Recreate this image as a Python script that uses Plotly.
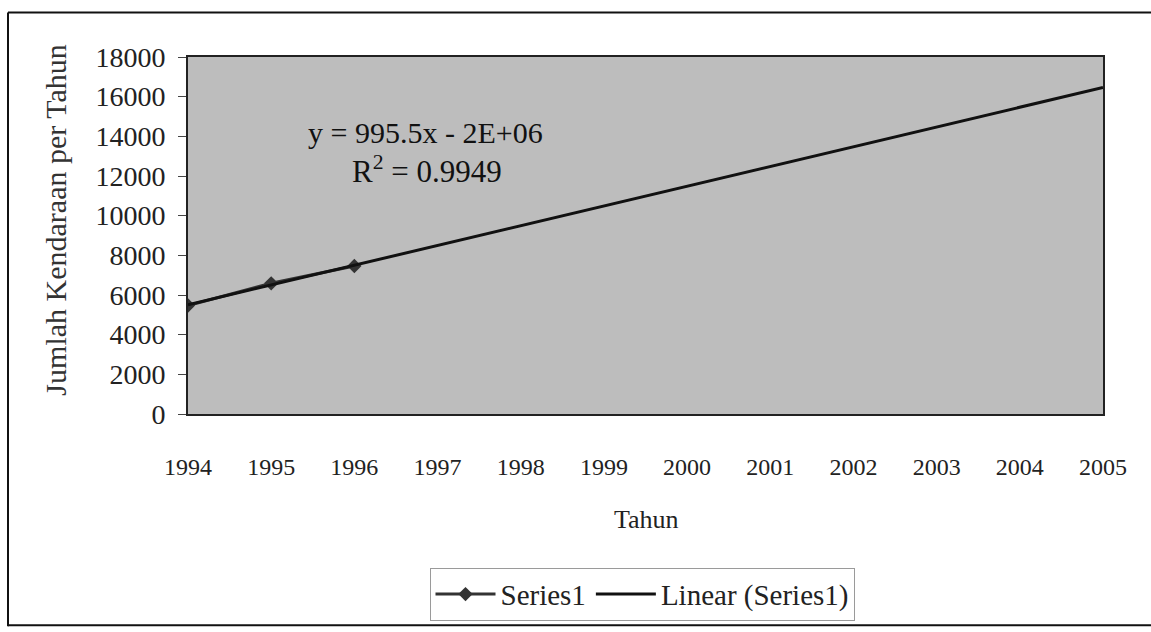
import numpy as np
import plotly.graph_objects as go

years = [1994, 1995, 1996]
vehicles = [5470, 6589, 7461]
trend_years = [1994, 2005]
x_ticks = list(range(1994, 2006))
y_ticks = list(range(0, 18001, 2000))

slope, intercept = np.polyfit(years, vehicles, 1)
trend_vals = [slope * x + intercept for x in trend_years]

W, H = 1151, 632
L, R, T, B = 188, 48, 57, 632 - 417
pw, ph = W - L - R, H - T - B

def px(x):
    return (x - L) / pw

def py(y):
    return (H - B - y) / ph

FONT = "Liberation Serif, Times New Roman, serif"
TXT = "#222222"

fig = go.Figure()
fig.add_trace(go.Scatter(
    x=years, y=vehicles, mode="lines+markers", name="Series1",
    line=dict(color="#333333", width=3),
    marker=dict(symbol="diamond", size=11, color="#333333"),
))
fig.add_trace(go.Scatter(
    x=trend_years, y=trend_vals, mode="lines", name="Linear (Series1)",
    line=dict(color="#111111", width=3),
))

def ann(text, x, y, size, color="#111111", angle=0):
    return dict(text=text, x=px(x), y=py(y), xref="paper", yref="paper",
                xanchor="center", yanchor="middle", textangle=angle,
                showarrow=False, font=dict(family=FONT, size=size, color=color))

def seg(x0, y0, x1, y1, color="#111111", width=2):
    return dict(type="line", xref="paper", yref="paper", x0=px(x0), y0=py(y0),
                x1=px(x1), y1=py(y1), line=dict(color=color, width=width))

fig.update_layout(
    width=W, height=H,
    margin=dict(l=L, r=R, t=T, b=B),
    paper_bgcolor="white",
    plot_bgcolor="#bdbdbd",
    font=dict(family=FONT, size=24, color=TXT),
    showlegend=True,
    legend=dict(
        orientation="h", x=px(642), y=py(572), xanchor="center", yanchor="top",
        bgcolor="rgba(0,0,0,0)", bordercolor="#9a9a9a", borderwidth=1,
        font=dict(family=FONT, size=29, color=TXT), itemwidth=60,
        traceorder="normal",
    ),
    xaxis=dict(
        range=[1994, 2005], tickvals=x_ticks, ticktext=[str(v) for v in x_ticks],
        showgrid=False, zeroline=False, showline=True, linecolor="#222222",
        linewidth=2, mirror=True, ticks="", automargin=False,
        ticklabelstandoff=30, tickfont=dict(family=FONT, size=24, color=TXT),
    ),
    yaxis=dict(
        range=[0, 18000], tickvals=y_ticks, tickformat="d", showgrid=False, zeroline=False,
        showline=True, linecolor="#222222", linewidth=2, mirror=True,
        ticks="outside", ticklen=8, tickcolor="#444444", ticklabelstandoff=7,
        automargin=False, tickfont=dict(family=FONT, size=28, color=TXT),
    ),
    annotations=[
        ann("y = 995.5x - 2E+06", 425, 133, 30),
        ann("R<sup>2</sup> = 0.9949", 427, 170, 31),
        ann("Jumlah Kendaraan per Tahun", 56, 222, 30, color="#333333", angle=-90),
        ann("Tahun", 646, 523, 26, color=TXT),
    ],
    shapes=[
        seg(8, 12, 1151, 12),
        seg(8, 12, 8, 631),
        seg(8, 630, 1151, 630),
    ],
)

fig.write_html(
    "out.html",
    config={"displayModeBar": False},
    post_script="document.body.style.margin='0';document.body.style.overflow='hidden';",
)
